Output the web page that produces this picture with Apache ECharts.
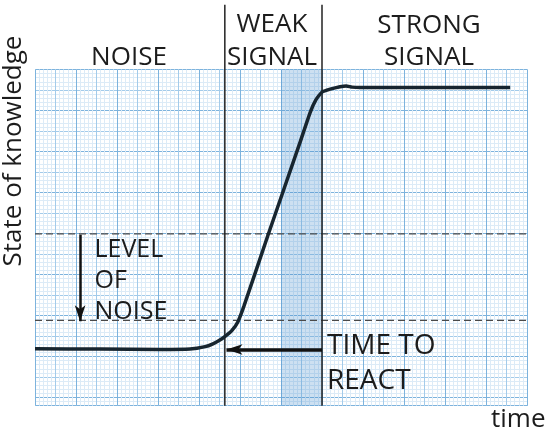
<!DOCTYPE html>
<html>
<head>
<meta charset="utf-8">
<script src="https://cdn.jsdelivr.net/npm/echarts@6/dist/echarts.min.js"></script>
<style>
html,body{margin:0;padding:0;background:#fff;}
#chart{width:550px;height:435px;}
</style>
</head>
<body>
<div id="chart"></div>
<script>
// ---- data (paper units: 1 unit = one major graph-paper square) ----
const curveX = [0, 1.59, 3.05, 3.78, 4.15, 4.34, 4.51, 4.66, 4.80, 4.95, 5.10, 5.68, 6.46, 6.71, 6.85, 7.00, 7.20, 7.44, 7.59, 7.73, 7.93, 11.59];
const curveY = [1.39, 1.38, 1.37, 1.38, 1.44, 1.51, 1.60, 1.71, 1.83, 2.05, 2.44, 4.15, 6.41, 7.15, 7.46, 7.65, 7.72, 7.78, 7.80, 7.77, 7.76, 7.76];
const noiseLevels = [2.08, 4.19];        // dashed lines
const phaseBounds = [4.63, 7.0];         // NOISE | WEAK SIGNAL | STRONG SIGNAL
const reactBand = [6.0, 7.0];            // shaded "time to react"
const noiseArrow = [[1.1, 4.17], [1.1, 2.06]];
const reactArrow = [[7.0, 1.37], [4.67, 1.37]];
const xRange = [0, 12];
const yRange = [0, 8.2];
const phaseTop = 9.78;
const dashEnd = 12.32;
const axisX = [[-0.56, 0], [12.32, 0]];
const axisY = [[0, -0.29], [0, 9.2]];

const MINOR = '#dcebf7', MED = '#a3cbea', MAJOR = '#7db3dd';
const INK = '#1c1c1c';

function paperAxis(interval, color, inverse) {
  return {
    type: 'value', min: 0, max: inverse ? yRange[1] : xRange[1], interval: interval, inverse: !!inverse,
    axisLine: {show: false}, axisTick: {show: false}, axisLabel: {show: false},
    splitLine: {show: true, lineStyle: {color: color, width: 1}}
  };
}

const chart = echarts.init(document.getElementById('chart'), null, {renderer: 'canvas'});

const series = [];
// shaded band + main curve
series.push({
  type: 'line', xAxisIndex: 0, yAxisIndex: 3, clip: false, z: 5,
  data: curveX.map((x, i) => [x, curveY[i]]),
  smooth: 0.15, symbol: 'none',
  lineStyle: {color: '#17252f', width: 3.5},
  markArea: {silent: true, itemStyle: {color: 'rgba(70,140,205,0.27)'},
    data: [[{xAxis: reactBand[0]}, {xAxis: reactBand[1]}]]}
});
// dashed noise level lines
noiseLevels.forEach(v => series.push({
  type: 'line', xAxisIndex: 0, yAxisIndex: 3, clip: false, z: 4, symbol: 'none',
  data: [[xRange[0], v], [dashEnd, v]],
  lineStyle: {color: '#4a4a4a', width: 1.3, type: [7, 4]}
}));
// phase boundary lines
phaseBounds.forEach(v => series.push({
  type: 'line', xAxisIndex: 0, yAxisIndex: 3, clip: false, z: 4, symbol: 'none',
  data: [[v, 0], [v, phaseTop]],
  lineStyle: {color: '#222', width: 1.5}
}));
// arrows and axes
series.push({
  type: 'line', xAxisIndex: 0, yAxisIndex: 3, clip: false, z: 6, data: [], symbol: 'none',
  markLine: {
    silent: true, animation: false, label: {show: false},
    symbol: ['none', 'arrow'],
    data: [
      [{coord: noiseArrow[0], lineStyle: {color: '#111', width: 2.5, type: 'solid'}, symbolSize: [9, 12]},
       {coord: noiseArrow[1]}],
      [{coord: reactArrow[0], lineStyle: {color: '#111', width: 3.5, type: 'solid'}, symbolSize: [11, 12]},
       {coord: reactArrow[1]}],
      [{coord: axisX[0], lineStyle: {color: '#3a3a3a', width: 1.5, type: 'solid'}, symbolSize: [6, 8]},
       {coord: axisX[1]}],
      [{coord: axisY[0], lineStyle: {color: '#3a3a3a', width: 1.5, type: 'solid'}, symbolSize: [6, 8]},
       {coord: axisY[1]}]
    ]
  }
});

function txt(text, x, y, size, align, rot) {
  return {type: 'text', x: x, y: y, rotation: rot || 0, z: 10,
    style: {text: text, fill: INK, font: size + 'px "Open Sans"', align: align || 'center', verticalAlign: 'middle'}};
}

chart.setOption({
  animation: false,
  grid: {left: 35, top: 69.5, width: 492, height: 336.2, containLabel: false},
  xAxis: [paperAxis(0.1, MINOR), paperAxis(0.5, MED), paperAxis(1, MAJOR)],
  yAxis: [paperAxis(0.1, MINOR, true), paperAxis(0.5, MED, true), paperAxis(1, MAJOR, true),
    {type: 'value', min: yRange[0], max: yRange[1], show: false}],
  series: series,
  graphic: [
    txt('NOISE', 129, 57.5, 26),
    txt('WEAK', 272, 24.3, 26),
    txt('SIGNAL', 272, 57.5, 26),
    txt('STRONG', 429, 25.5, 26),
    txt('SIGNAL', 429, 57.5, 26),
    txt('State of knowledge', 13.6, 151, 26, 'center', Math.PI / 2),
    txt('time', 491, 419.3, 26, 'left'),
    txt('LEVEL', 94.5, 250.2, 25, 'left'),
    txt('OF', 94.5, 281.2, 25, 'left'),
    txt('NOISE', 94.5, 312.2, 25, 'left'),
    txt('TIME TO', 327, 346.3, 28, 'left'),
    txt('REACT', 327, 381, 28, 'left')
  ]
});
</script>
</body>
</html>
